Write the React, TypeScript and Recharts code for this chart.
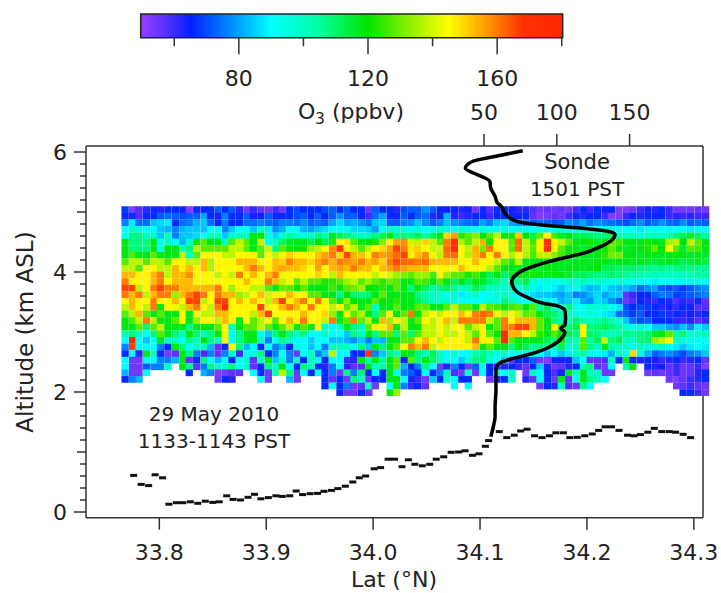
import { ScatterChart, Scatter, XAxis, YAxis, ReferenceLine, ReferenceArea } from 'recharts';

// lidar curtain grid
const latCols = [33.768,33.775,33.781,33.788,33.795,33.801,33.808,33.815,33.822,33.828,33.835,33.842,33.848,33.855,33.862,33.868,33.875,33.882,33.888,33.895,33.902,33.909,33.915,33.922,33.929,33.935,33.942,33.949,33.955,33.962,33.969,33.976,33.982,33.989,33.996,34.002,34.009,34.016,34.022,34.029,34.036,34.042,34.049,34.056,34.063,34.069,34.076,34.083,34.089,34.096,34.103,34.109,34.116,34.123,34.130,34.136,34.143,34.150,34.156,34.163,34.170,34.176,34.183,34.190,34.197,34.203,34.210,34.217,34.223,34.230,34.237,34.243,34.250,34.257,34.264,34.270,34.277,34.284,34.290,34.297,34.304,34.311];
const altRows = [5.04,4.93,4.82,4.71,4.60,4.50,4.39,4.28,4.17,4.06,3.95,3.84,3.73,3.62,3.51,3.41,3.30,3.19,3.08,2.97,2.86,2.75,2.64,2.53,2.42,2.32,2.21,2.10,1.99];

// O3 in ppbv, one list per altitude row, 0 = no data
const o3Rows = [
  [68,52,58,62,66,62,66,66,64,52,66,64,66,72,66,72,62,54,60,56,54,60,54,66,70,66,66,66,70,72,66,72,66,66,54,72,66,66,62,70,72,72,78,72,64,64,66,62,64,54,66,58,66,66,64,62,62,58,54,56,54,56,54,60,66,60,66,64,66,52,52,54,60,64,62,66,60,54,54,54,56,54],
  [66,66,58,66,66,72,74,72,70,72,72,80,66,64,76,66,66,72,64,64,72,66,66,66,70,72,66,72,66,72,78,72,72,66,60,74,80,66,66,72,66,72,74,62,66,82,62,60,62,66,66,60,66,66,64,64,66,56,52,54,56,54,60,64,62,66,66,60,52,52,60,66,62,66,64,66,60,62,60,62,60,60],
  [76,88,74,74,84,86,88,66,74,76,82,84,74,66,76,66,66,74,74,76,74,72,76,76,74,78,72,74,72,80,86,80,82,78,74,84,86,72,72,76,78,84,78,72,76,84,78,76,74,72,80,76,84,86,80,78,76,72,74,72,70,72,78,76,80,74,78,76,74,72,70,74,78,72,74,78,74,72,78,72,74,72],
  [90,98,95,90,90,84,82,76,82,84,84,84,90,92,76,84,90,90,84,100,88,78,82,90,92,82,80,84,86,92,90,94,86,86,84,80,92,100,100,96,90,96,90,94,100,94,90,98,94,90,96,94,92,96,90,94,92,90,92,92,94,96,90,92,90,94,92,90,94,92,90,90,88,92,90,90,92,90,90,88,92,90],
  [92,108,108,100,100,84,100,76,84,84,86,90,100,100,84,100,100,100,118,118,96,86,96,104,100,96,100,108,104,116,112,108,104,100,100,108,112,118,106,108,108,112,104,112,118,150,156,124,128,132,120,128,138,118,122,152,120,112,128,146,126,116,118,112,112,110,108,108,110,104,100,100,96,100,102,100,104,108,112,116,110,104],
  [118,108,108,108,118,92,100,90,82,100,122,128,118,118,100,128,138,128,118,138,92,100,112,116,118,118,112,120,112,124,146,148,128,118,120,122,132,146,156,158,140,138,150,138,128,160,170,136,128,138,154,122,146,146,128,162,138,126,146,172,146,138,128,118,118,122,116,118,128,126,118,118,118,122,118,118,136,138,120,138,128,118],
  [118,108,108,108,118,90,118,118,100,108,138,128,128,128,128,138,138,128,118,128,138,108,128,122,118,122,134,138,146,158,168,146,138,128,138,146,150,156,166,160,148,150,146,138,140,162,172,146,138,154,130,160,146,146,128,162,138,128,146,172,146,128,118,118,116,118,120,118,128,122,116,118,118,122,128,120,146,128,116,128,126,118],
  [118,128,118,118,128,118,118,118,138,100,128,146,146,146,138,138,146,146,146,128,146,138,146,150,146,146,146,152,156,160,150,166,154,152,146,160,156,158,162,166,146,153,158,146,138,160,162,146,136,153,160,146,160,146,136,146,136,126,138,138,132,126,118,118,118,116,118,124,130,130,118,118,116,118,118,116,118,118,118,116,118,116],
  [128,138,138,128,138,138,128,146,146,138,138,153,136,146,146,146,153,153,153,146,146,153,150,160,153,153,150,156,160,154,160,158,156,160,153,156,150,160,166,162,162,160,162,153,153,153,153,146,146,153,146,146,138,128,124,138,118,118,118,118,118,118,116,118,118,116,118,118,116,118,118,116,118,116,114,116,118,116,112,114,116,114],
  [138,138,128,146,146,138,138,153,146,153,146,153,136,146,146,146,146,153,160,153,146,153,156,153,153,150,146,156,146,153,156,153,160,153,153,146,153,156,160,156,153,153,153,146,146,146,146,153,146,146,146,138,128,118,118,116,118,118,116,118,118,116,118,118,116,118,120,112,112,110,110,110,108,108,106,108,106,108,108,108,106,106],
  [153,153,146,146,153,160,138,153,153,158,146,146,146,138,146,138,160,146,153,146,153,160,146,146,146,146,146,150,146,138,153,146,146,146,146,138,146,140,134,132,128,134,134,126,146,134,128,128,122,126,118,112,118,110,116,118,118,122,118,116,118,118,116,112,112,110,108,108,110,108,106,104,104,102,102,100,100,100,100,102,104,104],
  [160,146,146,146,153,160,146,153,153,153,146,146,146,146,146,146,146,153,146,146,160,153,138,146,128,138,128,128,122,124,128,134,138,128,134,128,124,130,128,118,118,128,126,118,128,118,112,118,112,118,116,110,108,100,106,108,112,96,94,96,92,94,100,96,100,96,100,96,94,96,94,92,92,90,88,92,90,90,92,92,94,92],
  [166,166,138,146,160,166,160,160,153,153,153,153,153,160,146,134,146,146,138,138,128,118,130,128,118,128,118,118,118,126,118,128,130,134,120,118,124,118,128,118,108,118,112,104,108,112,106,100,104,112,108,100,100,96,100,92,104,90,88,92,88,84,88,92,86,82,84,88,84,82,84,80,74,78,80,72,70,72,68,72,76,78],
  [160,153,160,138,153,160,160,134,153,160,166,160,146,160,153,153,134,138,146,153,140,146,146,153,146,146,128,128,118,118,108,120,110,108,110,118,128,118,118,118,118,108,104,100,98,92,96,88,94,100,90,92,96,100,96,90,88,86,84,84,82,80,84,76,78,82,86,80,84,84,56,60,64,66,72,76,74,68,70,72,74,76],
  [146,153,146,146,160,146,146,153,146,166,166,138,146,166,166,146,153,146,153,146,138,153,166,146,153,160,146,160,146,128,118,134,120,118,118,128,118,118,124,118,118,112,106,100,98,100,94,92,90,90,90,98,94,108,100,94,90,100,96,92,90,82,84,88,80,78,86,84,78,72,54,58,66,62,60,66,62,58,62,60,64,56],
  [138,153,146,138,160,118,146,146,138,153,160,146,138,160,172,146,146,146,146,166,146,146,153,160,153,146,160,146,146,138,146,128,138,118,128,100,118,118,128,118,118,128,128,118,118,128,138,128,128,118,138,128,126,122,126,128,118,128,106,112,100,96,108,94,92,100,96,98,92,88,70,66,70,68,66,62,64,60,66,64,58,58],
  [128,138,153,128,118,128,118,118,146,118,146,138,138,153,153,146,146,146,138,153,166,146,146,146,146,153,146,146,150,134,118,146,128,136,118,108,128,146,118,128,160,118,138,146,138,146,146,153,146,160,162,160,146,138,146,138,128,130,118,112,110,102,100,96,92,96,92,88,86,74,72,68,72,64,66,68,62,66,62,64,62,66],
  [118,128,138,160,138,118,118,128,146,118,134,146,146,138,153,146,118,146,128,138,146,128,146,153,146,160,146,146,138,160,118,128,160,128,138,118,153,134,146,138,118,128,146,138,146,153,138,160,160,160,160,138,128,160,146,153,153,153,128,118,108,104,100,110,104,100,104,108,102,96,84,74,70,72,64,66,66,62,60,62,58,60],
  [118,118,128,108,128,138,118,118,118,108,118,118,118,128,146,100,118,128,128,138,128,118,128,138,118,128,118,146,100,90,100,118,108,100,128,146,146,153,118,138,118,118,138,138,146,138,146,146,128,138,146,118,128,160,160,166,166,153,128,118,146,128,108,112,146,108,110,112,108,104,96,92,98,90,84,84,80,78,84,78,88,84],
  [104,108,100,90,108,128,118,108,100,118,108,100,108,118,146,90,108,118,118,90,84,108,118,108,100,108,90,90,100,90,90,84,108,100,118,108,128,128,108,128,108,128,138,138,146,138,138,146,138,128,146,128,120,172,153,153,146,138,124,118,128,118,112,108,146,110,108,104,100,104,108,106,108,110,116,118,128,104,108,96,100,102],
  [90,172,90,84,90,118,100,100,90,108,100,118,108,100,146,90,108,118,118,100,76,90,108,100,90,90,84,90,90,84,84,82,78,84,76,84,82,118,118,128,128,146,153,146,138,146,146,146,138,160,146,146,128,172,128,118,118,118,118,112,108,118,104,100,128,104,112,138,108,112,100,100,108,110,134,138,146,100,96,92,90,92],
  [76,166,90,90,90,76,66,118,108,90,100,100,82,56,66,146,108,82,90,66,90,76,82,66,96,90,84,90,76,100,100,100,90,108,84,118,108,118,128,146,160,153,160,138,146,146,146,146,146,153,118,128,118,118,108,118,112,104,108,106,100,112,96,100,128,108,100,118,104,100,96,92,100,96,96,100,92,88,84,88,90,88],
  [66,90,62,118,100,66,54,56,118,108,76,58,76,56,76,100,60,90,96,108,66,76,90,76,54,90,100,76,84,138,90,90,66,66,170,76,84,108,100,118,118,108,100,112,100,92,96,90,92,104,108,100,96,100,90,92,94,92,90,84,90,84,88,100,104,92,90,88,82,100,92,150,96,82,72,76,78,74,70,76,78,84],
  [90,54,54,90,90,76,76,82,118,56,66,108,90,82,90,64,90,100,56,100,118,84,100,76,100,66,100,90,66,90,90,60,62,118,100,118,104,118,128,66,128,108,118,110,100,90,90,84,100,108,110,96,90,84,56,66,66,72,54,52,66,64,66,84,90,54,56,58,100,66,118,66,62,66,64,60,62,66,60,62,66,56],
  [90,54,54,72,76,76,100,0,118,108,56,76,108,96,100,108,90,100,56,66,108,100,118,90,66,108,100,66,62,76,90,62,56,56,118,100,104,118,128,82,66,76,108,90,54,62,76,66,54,72,90,66,60,62,66,60,56,66,84,62,54,56,62,66,100,108,56,54,90,0,100,118,0,66,62,64,56,60,54,56,60,52],
  [82,54,54,90,0,0,0,0,0,66,0,82,76,52,54,56,56,0,90,66,54,100,138,108,54,90,66,90,66,76,54,108,76,108,66,90,66,118,90,76,72,66,90,66,76,100,58,54,100,54,90,66,100,90,100,0,54,100,90,66,58,66,118,100,118,100,100,54,54,0,0,0,0,54,56,54,56,60,54,56,62,66],
  [66,76,82,0,0,0,0,0,0,0,0,0,0,54,66,62,0,0,0,90,54,0,0,82,54,0,0,0,66,56,66,54,108,100,54,66,66,118,118,90,66,60,54,84,66,100,90,66,66,0,0,54,62,66,100,0,62,56,90,66,54,118,56,90,118,108,100,90,0,0,0,0,0,0,0,0,54,52,56,60,62,66],
  [0,0,0,0,0,0,0,0,0,0,0,0,0,0,0,0,0,0,0,0,0,0,0,0,0,0,0,0,66,90,66,76,54,56,100,54,0,90,118,76,60,66,56,0,0,0,90,0,90,0,0,0,0,0,0,0,0,0,54,66,62,100,58,54,108,90,0,0,0,0,0,0,0,0,0,0,0,54,56,60,56,54],
  [0,0,0,0,0,0,0,0,0,0,0,0,0,0,0,0,0,0,0,0,0,0,0,0,0,0,0,0,0,0,66,54,54,66,54,0,0,118,134,0,0,0,0,0,0,0,0,0,0,0,0,0,0,0,0,0,0,0,0,0,0,0,0,0,0,0,0,0,0,0,0,0,0,0,0,0,0,0,66,66,60,54],
];

// aircraft altitude
const flightLat = [33.776,33.783,33.790,33.796,33.803,33.809,33.816,33.822,33.829,33.836,33.843,33.850,33.856,33.863,33.869,33.876,33.883,33.889,33.895,33.902,33.909,33.915,33.922,33.928,33.934,33.941,33.948,33.954,33.961,33.967,33.974,33.981,33.987,33.993,34.001,34.007,34.014,34.020,34.027,34.033,34.039,34.046,34.053,34.059,34.066,34.073,34.080,34.086,34.093,34.099,34.105,34.108,34.118,34.125,34.132,34.138,34.144,34.151,34.158,34.165,34.171,34.178,34.184,34.191,34.198,34.205,34.211,34.217,34.223,34.230,34.238,34.244,34.250,34.257,34.263,34.270,34.277,34.283,34.290,34.297];
const flightAlt = [0.61,0.46,0.44,0.62,0.57,0.13,0.155,0.155,0.17,0.145,0.18,0.16,0.17,0.27,0.21,0.20,0.245,0.295,0.22,0.24,0.27,0.26,0.27,0.35,0.29,0.305,0.31,0.345,0.36,0.39,0.43,0.50,0.57,0.60,0.72,0.74,0.88,0.88,0.755,0.87,0.795,0.77,0.795,0.88,0.92,0.995,1.0,1.02,0.945,0.97,1.095,1.19,1.34,1.24,1.28,1.35,1.38,1.27,1.24,1.27,1.32,1.32,1.24,1.245,1.27,1.30,1.36,1.42,1.42,1.36,1.28,1.27,1.29,1.33,1.395,1.34,1.34,1.33,1.295,1.24];

// ozonesonde profile
const sondePpb = [76.6,56.4,42.7,37.2,42.7,49.5,54,54.6,57.6,59,62,64.4,69,77,95.3,118,132,140,137.7,129.7,118,102,88.5,77,71.3,69,71.3,79.3,90.7,100,105.6,106,105.6,102.7,105.6,103.4,95.3,83.9,70,59.8,58.2,58.2,57.6,57.6,56.4,54.6];
const sondeAlt = [6.02,5.92,5.85,5.73,5.65,5.58,5.51,5.40,5.26,5.16,5.09,4.98,4.88,4.82,4.77,4.73,4.69,4.63,4.53,4.42,4.31,4.22,4.13,4.03,3.94,3.84,3.70,3.58,3.48,3.44,3.355,3.23,3.12,3.06,3.0,2.90,2.755,2.645,2.56,2.47,2.37,2.03,1.755,1.59,1.42,1.255];

const latTicks = [33.8, 33.9, 34.0, 34.1, 34.2, 34.3];
const altTicks = [0,0.2,0.4,0.6,0.8,1,1.2,1.4,1.6,1.8,2,2.2,2.4,2.6,2.8,3,3.2,3.4,3.6,3.8,4,4.2,4.4,4.6,4.8,5,5.2,5.4,5.6,5.8,6];
const sondeTicks = [50, 100, 150];
const barTicks = [60, 80, 100, 120, 140, 160, 180];
const barLabels = [80, 120, 160];

const colorStops: [number, string][] = [
  [50, '#9040ff'], [57, '#5c30ff'], [65, '#0420ff'], [78, '#0090ff'], [90, '#00ffff'],
  [105, '#00ffa0'], [120, '#00e400'], [133, '#90f000'], [145, '#ffff00'], [157, '#ff9800'],
  [168, '#ff3000'], [180, '#ff2800'],
];

const FONT = '"DejaVu Sans", sans-serif';
const INK = '#222';
const LAT_MIN = 33.7314;
const LAT_MAX = 34.317;
const LAT_FRAME = 34.3086;
const ALT_MIN = -0.095;
const ALT_MAX = 6.1;
const BAR_MIN = 49.6;
const BAR_MAX = 180.3;
const CELL_W = 7.3;
const CELL_H = 6.7;

function hex(c: string) {
  return [1, 3, 5].map(i => parseInt(c.slice(i, i + 2), 16));
}

function o3Color(v: number) {
  for (let i = 1; i < colorStops.length; i++) {
    const [v1, c1] = colorStops[i];
    if (v <= v1) {
      const [v0, c0] = colorStops[i - 1];
      const t = (v - v0) / (v1 - v0);
      const a = hex(c0), b = hex(c1);
      return `rgb(${a.map((x, k) => Math.round(x + (b[k] - x) * t)).join(',')})`;
    }
  }
  return colorStops[colorStops.length - 1][1];
}

const cells = o3Rows.flatMap((row, r) =>
  row.map((o3, c) => ({ lat: latCols[c], alt: altRows[r], o3 })).filter(d => d.o3 > 0)
);
const flight = flightLat.map((lat, i) => ({ lat, alt: flightAlt[i] }));
const sonde = sondePpb.map((ppb, i) => ({ ppb, alt: sondeAlt[i] }));
const barEnds = [{ v: BAR_MIN, u: 0 }, { v: BAR_MAX, u: 1 }];

function Cell(p: any) {
  return <rect x={p.cx - CELL_W / 2} y={p.cy - CELL_H / 2} width={CELL_W} height={CELL_H} fill={o3Color(p.payload.o3)} />;
}

function Dash(p: any) {
  return <rect x={p.cx - 3.5} y={p.cy - 1.5} width={7} height={3} fill="#111" />;
}

function AltTick({ x, y, payload }: any) {
  const v = payload.value;
  const len = v % 2 === 0 ? 12 : Number.isInteger(v) ? 9 : 6;
  return (
    <g>
      <line x1={x - len} x2={x} y1={y} y2={y} stroke="#333" strokeWidth={1.5} />
      {v % 2 === 0 && (
        <text x={67} y={y + 8} textAnchor="end" fontSize={22} fontFamily={FONT} fill={INK}>{v}</text>
      )}
    </g>
  );
}

function BarTick({ x, y, payload }: any) {
  const len = payload.value % 40 === 0 ? 16.5 : 8.5;
  return (
    <g>
      <line x1={x} x2={x} y1={y} y2={y + len} stroke="#333" strokeWidth={1.5} />
      {barLabels.includes(payload.value) && (
        <text x={x} y={86} textAnchor="middle" fontSize={22} fontFamily={FONT} fill={INK}>{payload.value}</text>
      )}
    </g>
  );
}

function ColorBar() {
  return (
    <div style={{ position: 'absolute', left: 0, top: 0 }}>
      <ScatterChart width={721} height={100} margin={{ left: 140.7, right: 158.3, top: 14, bottom: 22.3 }}>
        <defs>
          <linearGradient id="o3Grad" x1="0" x2="1" y1="0" y2="0">
            {colorStops.map(([v, c]) => (
              <stop key={v} offset={(v - BAR_MIN) / (BAR_MAX - BAR_MIN)} stopColor={c} />
            ))}
          </linearGradient>
        </defs>
        <XAxis type="number" dataKey="v" domain={[BAR_MIN, BAR_MAX]} ticks={barTicks} interval={0} height={40}
          axisLine={false} tickLine={false} tickSize={0} tickMargin={0} tick={BarTick} />
        <YAxis type="number" dataKey="u" hide domain={[0, 1]} />
        <Scatter data={barEnds} shape={() => <g />} isAnimationActive={false} />
        <ReferenceArea x1={BAR_MIN} x2={BAR_MAX} y1={0} y2={1} ifOverflow="visible" fill="url(#o3Grad)" fillOpacity={1} stroke="#222" strokeWidth={1.5} />
      </ScatterChart>
    </div>
  );
}

export default function App() {
  const frame = { stroke: '#333', strokeWidth: 1.5 };
  return (
    <div style={{ position: 'absolute', left: 0, top: 0, width: 721, height: 593, background: '#fff' }}>
      <ColorBar />
      <div style={{ position: 'absolute', left: 0, top: 0 }}>
        <ScatterChart width={721} height={593} margin={{ left: 46, right: 9, top: 106, bottom: 35.3 }}>
          <XAxis xAxisId="lat" type="number" dataKey="lat" orientation="bottom" domain={[LAT_MIN, LAT_MAX]} ticks={latTicks} interval={0}
            height={40} axisLine={false} tickSize={12} tickMargin={15} tickLine={{ stroke: '#333', strokeWidth: 1.5 }}
            tickFormatter={v => v.toFixed(1)} tick={{ fontSize: 22, fontFamily: FONT, fill: INK }} />
          <XAxis xAxisId="ppb" type="number" dataKey="ppb" orientation="top" domain={[-223.4, 206.6]} ticks={sondeTicks} interval={0}
            height={40} axisLine={false} tickSize={12} tickMargin={14} tickLine={{ stroke: '#333', strokeWidth: 1.5 }}
            tick={{ fontSize: 22, fontFamily: FONT, fill: INK }} />
          <YAxis yAxisId="alt" type="number" dataKey="alt" domain={[ALT_MIN, ALT_MAX]} ticks={altTicks} interval={0} width={40}
            axisLine={frame} tickLine={false} tickSize={0} tickMargin={0} tick={AltTick} />
          <Scatter xAxisId="lat" yAxisId="alt" data={cells} shape={Cell} isAnimationActive={false} />
          <Scatter xAxisId="lat" yAxisId="alt" data={flight} shape={Dash} isAnimationActive={false} />
          <Scatter xAxisId="ppb" yAxisId="alt" data={sonde} shape={() => <g />} line={{ stroke: '#000', strokeWidth: 3.5 }} lineJointType="monotoneY" isAnimationActive={false} />
          <ReferenceLine xAxisId="lat" yAxisId="alt" segment={[{ x: LAT_MIN, y: ALT_MIN }, { x: LAT_FRAME, y: ALT_MIN }]} {...frame} />
          <ReferenceLine xAxisId="lat" yAxisId="alt" segment={[{ x: LAT_MIN, y: ALT_MAX }, { x: LAT_FRAME, y: ALT_MAX }]} {...frame} />
          <ReferenceLine xAxisId="lat" yAxisId="alt" segment={[{ x: LAT_FRAME, y: ALT_MIN }, { x: LAT_FRAME, y: ALT_MAX }]} {...frame} />
          <g fontFamily={FONT} fill={INK} textAnchor="middle">
            <text x={351} y={119} fontSize={22}>O<tspan fontSize={15} dy={5}>3</tspan><tspan dy={-5}> (ppbv)</tspan></text>
            <text x={577} y={169} fontSize={21}>Sonde</text>
            <text x={577} y={196} fontSize={20}>1501 PST</text>
            <text x={214} y={421} fontSize={20}>29 May 2010</text>
            <text x={214} y={448} fontSize={20}>1133-1143 PST</text>
            <text x={394} y={587} fontSize={22}>Lat (°N)</text>
            <text x={33} y={332} fontSize={23} transform="rotate(-90 33 332)">Altitude (km ASL)</text>
          </g>
        </ScatterChart>
      </div>
    </div>
  );
}
